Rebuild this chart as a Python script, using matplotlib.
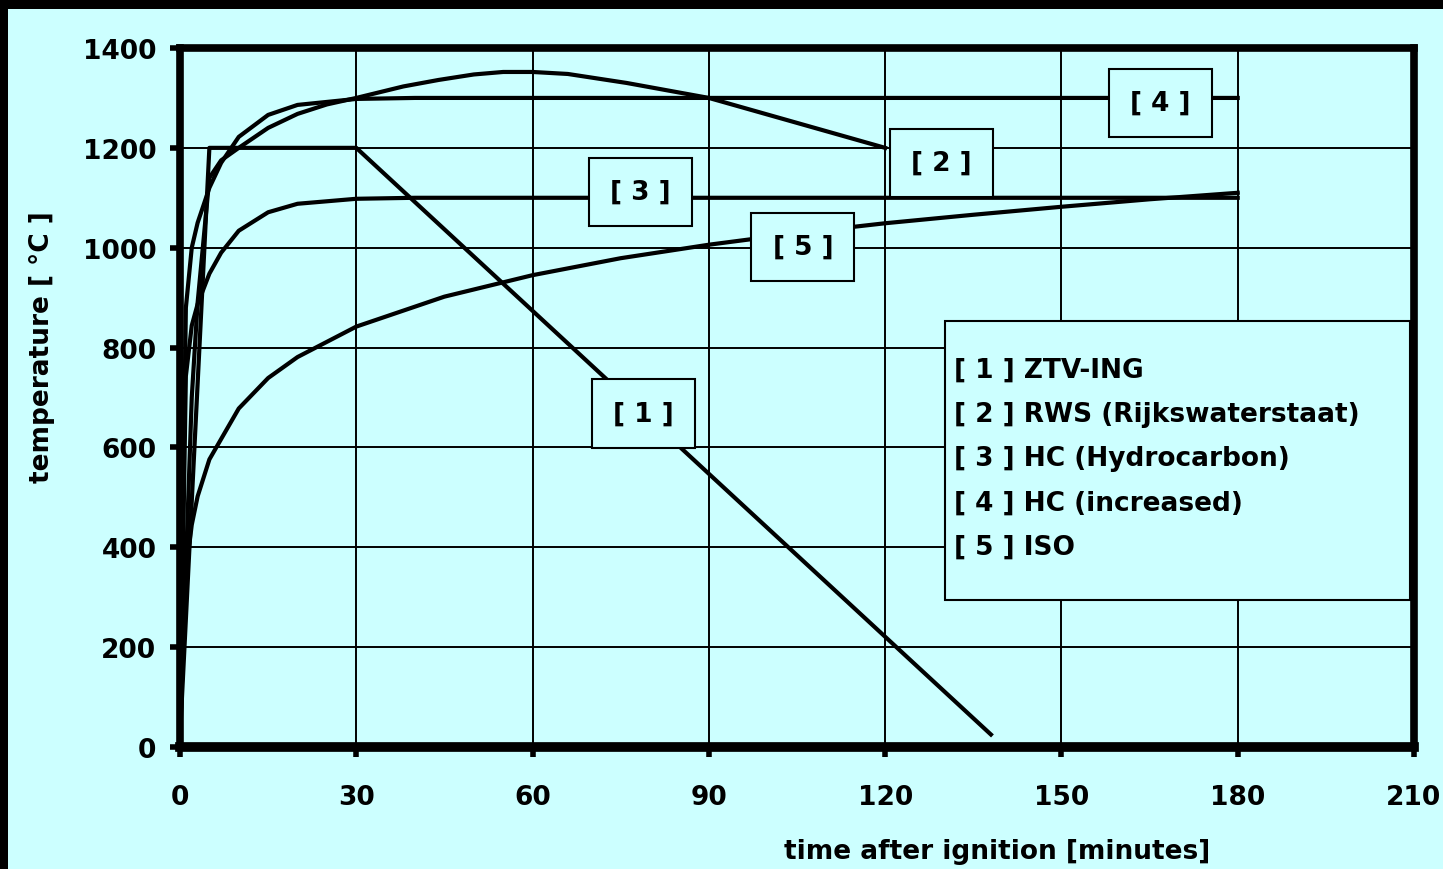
import matplotlib.pyplot as plt
from matplotlib.patches import Rectangle

# 字体
plt.rcParams['font.family'] = ['DejaVu Sans']

# 数据
t_ztv = [0, 5, 30, 138]
T_ztv = [20, 1200, 1200, 25]

t_rws = [0, 2, 3, 5, 7, 10, 15, 20, 25, 30, 38, 44, 50, 55, 60, 66, 76, 90, 105, 120]
T_rws = [20, 700, 890, 1140, 1175, 1200, 1240, 1268, 1287, 1300, 1323, 1336, 1347,
         1352, 1352, 1348, 1330, 1300, 1250, 1200]

t_hc = [0, 1, 2, 3, 5, 7, 10, 15, 20, 30, 40, 60, 90, 120, 150, 180]
T_hc = [20, 743, 844, 887, 948, 990, 1034, 1071, 1088, 1098, 1100, 1100, 1100,
        1100, 1100, 1100]

t_hci = [0, 1, 2, 3, 5, 7, 10, 15, 20, 30, 40, 60, 90, 120, 150, 180]
T_hci = [20, 880, 1000, 1050, 1120, 1170, 1222, 1266, 1286, 1298, 1300, 1300, 1300,
         1300, 1300, 1300]

t_iso = [0, 1, 2, 3, 5, 10, 15, 20, 30, 45, 60, 75, 90, 105, 120, 135, 150, 165, 180]
T_iso = [20, 349, 445, 502, 576, 678, 739, 781, 842, 902, 945, 979, 1006, 1029,
         1049, 1066, 1082, 1097, 1110]

curve_tags = ['[ 1 ]', '[ 2 ]', '[ 3 ]', '[ 4 ]', '[ 5 ]']
tag_pos = [(78.8, 668), (129.6, 1170), (78.4, 1112), (166.8, 1290), (106, 1002)]

legend_lines = ['[ 1 ] ZTV-ING',
                '[ 2 ] RWS (Rijkswaterstaat)',
                '[ 3 ] HC (Hydrocarbon)',
                '[ 4 ] HC (increased)',
                '[ 5 ] ISO']

x_ticks = [0, 30, 60, 90, 120, 150, 180, 210]
y_ticks = [0, 200, 400, 600, 800, 1000, 1200, 1400]

cyan = '#ccffff'

fig = plt.figure(figsize=(14.43, 8.70), dpi=100)
fig.patch.set_facecolor(cyan)
# 黑边
fig.patches.append(Rectangle((0, 1 - 10 / 870), 1, 10 / 870, transform=fig.transFigure,
                             facecolor='black', edgecolor='none', zorder=0))
fig.patches.append(Rectangle((0, 0), 8 / 1443, 1, transform=fig.transFigure,
                             facecolor='black', edgecolor='none', zorder=0))

ax = fig.add_axes([180 / 1443, 1 - 748 / 870, (1414 - 180) / 1443, (748 - 49) / 870])
ax.set_facecolor(cyan)
ax.set_xlim(0, 210)
ax.set_ylim(0, 1400)
ax.set_xticks(x_ticks)
ax.set_yticks(y_ticks)
ax.tick_params(axis='both', direction='out', length=7, width=4, labelsize=19,
               colors='black')
ax.tick_params(axis='y', pad=10)
ax.tick_params(axis='x', pad=20)
for lab in ax.get_xticklabels() + ax.get_yticklabels():
    lab.set_fontweight('bold')
for s in ax.spines.values():
    s.set_linewidth(5.5)
ax.spines['bottom'].set_linewidth(7)
ax.grid(True, color='black', lw=1.4, zorder=1)
ax.set_axisbelow(True)

# 曲线
for tt, TT in [(t_ztv, T_ztv), (t_rws, T_rws), (t_hc, T_hc), (t_hci, T_hci), (t_iso, T_iso)]:
    ax.plot(tt, TT, color='black', lw=3, zorder=3, solid_joinstyle='round')

# 曲线标签
for tag, (px, py) in zip(curve_tags, tag_pos):
    ax.text(px, py, tag, fontsize=19, fontweight='bold', ha='center', va='center', zorder=5,
            bbox=dict(boxstyle='square,pad=0.8', facecolor=cyan, edgecolor='black', lw=1.5))

# 图例框
ax.add_patch(Rectangle((0.620, 0.211), 0.377, 0.398, transform=ax.transAxes,
                       facecolor=cyan, edgecolor='black', lw=1.5, zorder=5))
leg_y = [0.540, 0.477, 0.413, 0.349, 0.286]
for line, ly in zip(legend_lines, leg_y):
    ax.text(0.627, ly, line, transform=ax.transAxes, fontsize=19, fontweight='bold',
            ha='left', va='center', zorder=6)

fig.text(997 / 1443, 1 - 852 / 870, 'time after ignition [minutes]', fontsize=19,
         fontweight='bold', ha='center', va='center')
fig.text(42 / 1443, 1 - 347 / 870, 'temperature [ °C ]', fontsize=19, fontweight='bold',
         rotation=90, ha='center', va='center')

fig.savefig('out.png', dpi=100, facecolor=fig.get_facecolor())
